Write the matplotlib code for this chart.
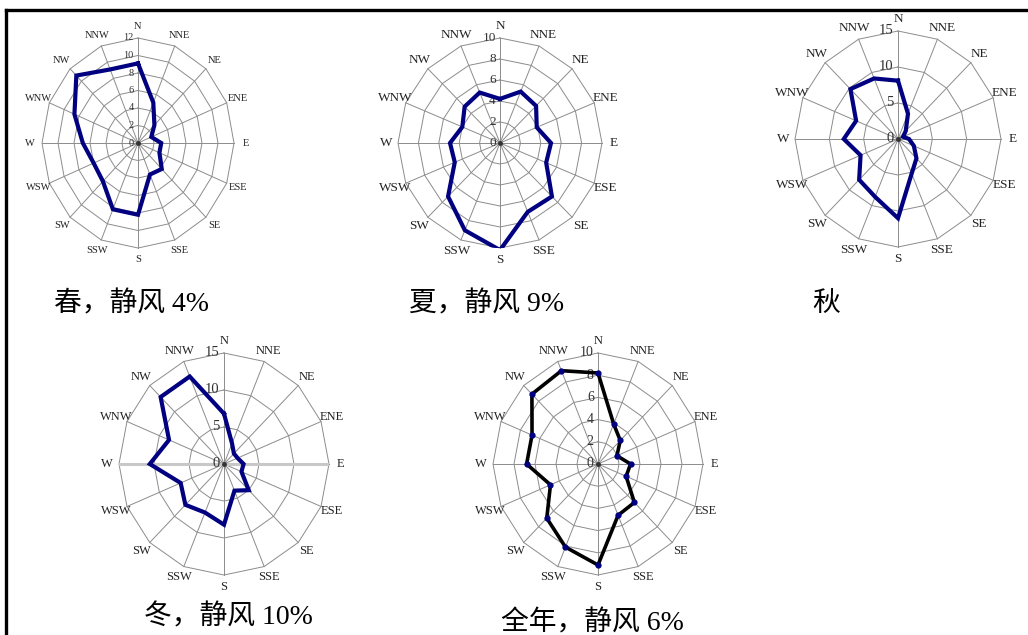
import matplotlib.pyplot as plt
import numpy as np
from matplotlib.lines import Line2D

# Direcciones del viento (16 rumbos)
dirs = ['N', 'NNE', 'NE', 'ENE', 'E', 'ESE', 'SE', 'SSE',
        'S', 'SSW', 'SW', 'WSW', 'W', 'WNW', 'NW', 'NNW']

# Frecuencias (%) por estación
spring = [9.1, 5.0, 2.9, 1.8, 2.9, 2.9, 4.2, 3.9, 8.2, 8.2, 6.2, 6.0, 6.9, 8.6, 10.9, 9.1]
summer = [4.2, 5.3, 5.0, 3.9, 5.0, 4.9, 7.2, 7.1, 10.2, 9.0, 7.2, 4.8, 4.9, 4.0, 4.9, 5.2]
autumn = [8.1, 3.8, 1.6, 0.8, 1.6, 2.5, 3.8, 5.2, 11.0, 8.7, 8.0, 5.9, 7.9, 6.6, 9.8, 9.1]
winter = [6.8, 3.0, 2.0, 2.1, 2.8, 2.7, 5.0, 3.9, 8.2, 7.1, 7.8, 6.7, 10.6, 8.5, 12.8, 12.8]
annual = [8.2, 3.9, 3.0, 1.95, 3.1, 2.9, 4.9, 5.0, 9.1, 8.1, 6.9, 4.9, 6.8, 6.8, 8.9, 9.1]

# Escalas radiales
ticks_spring = [0, 2, 4, 6, 8, 10, 12]
ticks_summer = [0, 2, 4, 6, 8, 10]
ticks_autumn = [0, 5, 10, 15]
ticks_winter = [0, 5, 10, 15]
ticks_annual = [0, 2, 4, 6, 8, 10]

titles = ['春，静风 4%', '夏，静风 9%', '秋', '冬，静风 10%', '全年，静风 6%']

W, H = 1028, 635
NAVY = '#000080'
GRID = '#8c8c8c'
LAT = 'Liberation Serif'

fig = plt.figure(figsize=(W / 100, H / 100), dpi=100)
fig.patch.set_facecolor('white')


def rosa(cx, cy, rx, ry, values, ticks, lab_size, tick_size, color=NAVY,
         lw=3.0, marker=None, eje_w=False):
    # rx, ry: semiejes en píxeles (la rosa queda algo estirada en vertical)
    ax = fig.add_axes([(cx - rx) / W, 1 - (cy + ry) / H, 2 * rx / W, 2 * ry / H],
                      projection='polar')
    ax.set_aspect('auto')
    ax.set_theta_zero_location('N')
    ax.set_theta_direction(-1)
    ax.grid(False)
    ax.spines['polar'].set_visible(False)
    ax.set_facecolor('none')
    rmax = ticks[-1]
    theta = np.deg2rad(np.arange(len(dirs)) * 22.5)
    closed = np.append(theta, theta[0])

    # Anillos poligonales y radios
    for r in ticks[1:]:
        ax.plot(closed, [r] * len(closed), color=GRID, lw=0.7, clip_on=False, zorder=1)
    for t in theta:
        ax.plot([t, t], [0, rmax], color=GRID, lw=0.7, clip_on=False, zorder=1)
    if eje_w:
        ax.plot([np.pi / 2, np.pi / 2], [0, rmax], color='#c8c8c8', lw=2.2, zorder=1)
        ax.plot([3 * np.pi / 2, 3 * np.pi / 2], [0, rmax], color='#c8c8c8', lw=2.2, zorder=1)

    # Etiquetas del eje radial
    for v in ticks:
        ax.annotate(str(v), xy=(0, v), xytext=(-3, 0), textcoords='offset points',
                    ha='right', va='center', fontsize=tick_size, family=LAT,
                    color='#333333', zorder=2)

    vals = np.append(values, values[0])
    ax.plot(closed, vals, color=color, lw=lw, solid_joinstyle='miter', zorder=3)
    if marker:
        ax.plot(theta, values, ls='none', marker=marker, ms=3.5, color=NAVY, zorder=4)
    ax.plot([0], [0], marker='o', ms=2.5, color='#333333', zorder=4)

    ax.set_ylim(0, rmax)
    ax.set_yticks([])
    ax.set_xticks(theta)
    ax.set_xticklabels(dirs, family=LAT, fontsize=lab_size, color='#222222')
    ax.tick_params(axis='x', length=0, pad=1.5)
    return ax


rosa(138, 143, 96, 105, spring, ticks_spring, 7.5, 7.5)
rosa(500, 143, 102, 105, summer, ticks_summer, 9.5, 9.5)
rosa(898, 139, 103, 108, autumn, ticks_autumn, 9.5, 10.5)
rosa(224, 464, 105, 111, winter, ticks_winter, 9, 10.5, eje_w=True)
rosa(598, 464, 105, 111, annual, ticks_annual, 9, 10, color='black', lw=2.6, marker='o')

# Títulos de cada rosa
fam = [LAT, 'Noto Sans CJK SC']
pos = [(131, 304), (487, 304), (826, 304), (228, 617), (592, 623)]
for (x, y), s in zip(pos, titles):
    fig.text(x / W, 1 - y / H, s, ha='center', va='center', fontsize=20, family=fam)

# Marco superior e izquierdo
fig.add_artist(Line2D([6 / W, 1], [1 - 10 / H, 1 - 10 / H], color='black', lw=2.4,
                      transform=fig.transFigure))
fig.add_artist(Line2D([6 / W, 6 / W], [0, 1 - 10 / H], color='black', lw=2.4,
                      transform=fig.transFigure))

fig.savefig('out.png', dpi=100)
